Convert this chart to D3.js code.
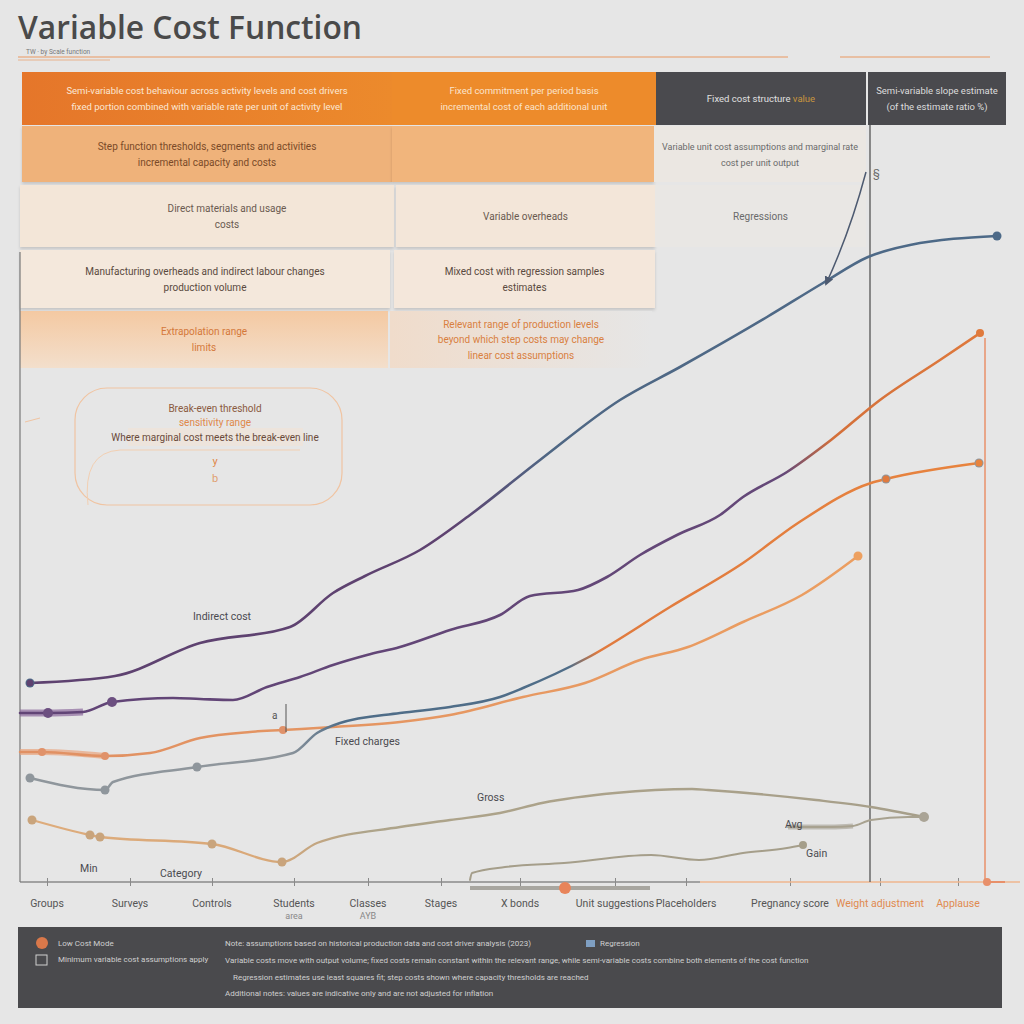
<!DOCTYPE html>
<html><head><meta charset="utf-8">
<script src="https://cdn.jsdelivr.net/npm/d3@7/dist/d3.min.js"></script>
<style>
html,body{margin:0;padding:0;background:#e6e6e6;}
svg{display:block;font-family:"Liberation Sans Narrow","Roboto","DejaVu Sans",sans-serif;}
</style></head>
<body>
<svg id="chart" width="1024" height="1024"></svg>
<script>
// ---------------- DATA ----------------
const titleText = "Variable Cost Function";
const subtitleText = "TW · by Scale function";

const categories = ["Groups","Surveys","Controls","Students|area","Classes|AYB","Stages","X bonds","Unit suggestions","Placeholders","Pregnancy score","Weight adjustment","Applause"];
const categoryX = [2.7, 11, 19.2, 27.4, 34.8, 42.1, 50, 59.5, 66.6, 77, 86, 93.8];
const categoryHighlight = [false,false,false,false,false,false,false,false,false,false,true,true];

// series values: [x, y]
const seriesA = [[1,19.9],[9.5,20.6],[18,23.9],[27,25.5],[31.3,28.9],[34.5,30.6],[40,33.2],[45,36.7],[52,42.2],[60,48.2],[66,51.5],[74.7,56.5],[80.3,59.9],[84.8,62.5],[89,63.7],[97.7,64.6]];
const seriesB = [[0,16.9],[2.8,16.9],[6.3,17],[9.2,18],[15.3,18.4],[18,18.3],[21.3,18.2],[24.7,19.5],[28,20.5],[31.3,21.7],[34.7,22.7],[38,23.5],[43,25.2],[48,26.7],[51,28.6],[55.8,29.2],[58.7,30.5],[62,32.7],[65.7,34.7],[70,36.7],[72.3,38.5],[76.7,41],[81.1,44.2],[86,48.2],[92,52.2],[96,54.9]];
const seriesC = [[1,10.4],[8.5,9.2],[9.3,10],[17.7,11.5],[27.3,12.9],[29.7,14.9],[32,15.9],[38,16.9],[43,17.5],[48,18.5],[50.3,19.4],[56.7,22.4],[65,27.5],[72.3,31.9],[77.8,35.9],[85.1,39.9],[86.6,40.3],[95.9,41.9]];
const seriesD = [[0,13],[2.2,13],[8.5,12.6],[13,12.9],[18,14.4],[23,15],[26.3,15.2],[31.3,15.5],[38,16],[43,16.7],[50.3,18.5],[56.5,19.9],[62,22.2],[66.8,23.5],[72.3,26],[78.2,28.7],[83.8,32.6]];
const seriesE = [[1.2,6.2],[7,4.7],[8,4.5],[19.2,3.8],[26.2,2],[29.7,3.9],[38,5.5],[43,6.2],[48,6.9],[52.2,7.9],[59.5,8.9],[67.2,9.3],[68.8,9.2],[79.6,8.2],[85.1,7.5],[90.4,6.5]];
const seriesF = [[45,0.2],[45.2,0.9],[48.5,1.5],[54.4,1.9],[63.1,2.7],[67.9,2.2],[72.3,2.9],[76.7,3.4],[78.3,3.7]];
const seriesG = [[76.8,5.5],[81.1,5.5],[83.3,5.6],[85.1,6.2],[88.8,6.5],[90.4,6.5]];
const seriesH = [[45,-0.6],[63,-0.6]];
const markerH = [[54.5,-0.6]];

const markersA = [0,15];
const markersB = [1,3];
const markersC = [0,1,3,16,17];
const markersD = [1,2,6];
const markersE = [0,1,2,3,4];
const markersF = [8];
const markersG = [5];

// chart annotations: [text, x, y]
const chartLabels = [["Indirect cost",17.3,26.2],["Fixed charges",31.5,13.7],["Gross",45.7,8.1],["Min",6,1],["Category",14,0.5],["Avg",76.5,5.4],["Gain",78.6,2.5]];

// table rows
const tableCells = [
  {r:0,c:0,lines:["Semi-variable cost behaviour across activity levels and cost drivers","fixed portion combined with variable rate per unit of activity level"]},
  {r:0,c:1,lines:["Fixed commitment per period basis","incremental cost of each additional unit"]},
  {r:0,c:2,lines:["Fixed cost structure"],accent:"value"},
  {r:0,c:3,lines:["Semi-variable slope estimate","(of the estimate ratio %)"]},
  {r:1,c:0,lines:["Step function thresholds, segments and activities","incremental capacity and costs"]},
  {r:1,c:1,lines:[]},
  {r:1,c:2,lines:["Variable unit cost assumptions and marginal rate","cost per unit output"]},
  {r:2,c:0,lines:["Direct materials and usage","costs"]},
  {r:2,c:1,lines:["Variable overheads"]},
  {r:2,c:2,lines:["Regressions"]},
  {r:3,c:0,lines:["Manufacturing overheads and indirect labour changes","production volume"]},
  {r:3,c:1,lines:["Mixed cost with regression samples","estimates"]},
  {r:4,c:0,lines:["Extrapolation range","limits"]},
  {r:4,c:1,lines:["Relevant range of production levels","beyond which step costs may change","linear cost assumptions"]}
];

const boxLines = ["Break-even threshold","sensitivity range","Where marginal cost meets the break-even line","y","b"];

const footerLeft = ["Low Cost Mode","Minimum variable cost assumptions apply"];
const footerRight = [
  "Note: assumptions based on historical production data and cost driver analysis (2023)",
  "Variable costs move with output volume; fixed costs remain constant within the relevant range, while semi-variable costs combine both elements of the cost function",
  "Regression estimates use least squares fit; step costs shown where capacity thresholds are reached",
  "Additional notes: values are indicative only and are not adjusted for inflation"
];
const footerLegend = "Regression";

// ---------------- DRAW ----------------
const svg = d3.select("#chart");
const W = 1024, H = 1024;
svg.append("rect").attr("width",W).attr("height",H).attr("fill","#e6e6e6");

const x = d3.scaleLinear().domain([0,98]).range([20,1000]);
const y = d3.scaleLinear().domain([0,81]).range([882,72]);

const defs = svg.append("defs");
function grad(id, stops){
  const g = defs.append("linearGradient").attr("id",id).attr("gradientUnits","userSpaceOnUse")
    .attr("x1",x(0)).attr("x2",x(98)).attr("y1",0).attr("y2",0);
  stops.forEach(s=>g.append("stop").attr("offset",s[0]).attr("stop-color",s[1]));
}
grad("gA",[[0,"#5e4270"],[0.44,"#5e4270"],[0.54,"#4f6784"],[1,"#4d6a88"]]);
grad("gB",[[0,"#614476"],[0.78,"#644878"],[0.83,"#d4703a"],[1,"#e07a3c"]]);
grad("gC",[[0,"#8f969c"],[0.27,"#8f969c"],[0.33,"#4f6d88"],[0.56,"#4f6d88"],[0.59,"#e07a3e"],[1,"#e8843e"]]);
grad("gD",[[0,"#e09063"],[1,"#eda060"]]);
grad("gE",[[0,"#deac7c"],[0.25,"#d9a878"],[0.35,"#aea48a"],[1,"#a59e8a"]]);
// header gradients
const hg = defs.append("linearGradient").attr("id","hg1").attr("x1",0).attr("x2",1);
hg.append("stop").attr("offset",0).attr("stop-color","#e5762a");
hg.append("stop").attr("offset",1).attr("stop-color","#ec8a2c");
const r5 = defs.append("linearGradient").attr("id","r5").attr("x1",0).attr("x2",0).attr("y1",0).attr("y2",1);
r5.append("stop").attr("offset",0).attr("stop-color","#f4c9a2");
r5.append("stop").attr("offset",1).attr("stop-color","#f3dfcc");
const r5b = defs.append("linearGradient").attr("id","r5b").attr("x1",0).attr("x2",1);
r5b.append("stop").attr("offset",0).attr("stop-color","#f0dccb");
r5b.append("stop").attr("offset",1).attr("stop-color","#e6e6e6");
const shadow = defs.append("filter").attr("id","sh").attr("x","-5%").attr("y","-20%").attr("width","110%").attr("height","150%");
shadow.append("feDropShadow").attr("dx",0).attr("dy",2).attr("stdDeviation",1.5).attr("flood-color","#000").attr("flood-opacity",0.15);

// ---- Title
svg.append("text").attr("x",18).attr("y",39).attr("font-family","'Open Sans','DejaVu Sans',sans-serif")
  .attr("font-size",32).attr("font-weight",600).attr("fill","#4a4a4a").attr("textLength",344).attr("lengthAdjust","spacingAndGlyphs")
  .text(titleText);
svg.append("text").attr("x",26).attr("y",54).attr("font-size",6.5).attr("fill","#777").text(subtitleText);
svg.append("line").attr("x1",18).attr("x2",788).attr("y1",57).attr("y2",57).attr("stroke","#e8b28c").attr("stroke-width",1.5);
svg.append("line").attr("x1",18).attr("x2",110).attr("y1",60).attr("y2",60).attr("stroke","#e8b28c").attr("stroke-width",1);
svg.append("line").attr("x1",840).attr("x2",990).attr("y1",57).attr("y2",57).attr("stroke","#e8b28c").attr("stroke-width",1.5);

// ---- Table
const colBounds = [
  [[22,392],[392,656],[656,866],[868,1006]],
  [[22,392],[392,654],[654,866]],
  [[20,394],[396,655],[655,866]],
  [[20,390],[394,655]],
  [[20,388],[390,652]]
];
const rowBounds = [[72,125],[126,182],[185,247],[250,308],[311,368]];
const cellFill = [
  ["url(#hg1)","#ed8b2b","#4a4a4e","#4a4a4e"],
  ["#efb27a","#f1b57c","#ebe7e2"],
  ["#f3e6d8","#f3e6d9","#e9e7e4"],
  ["#f4e8dc","#f4e7db"],
  ["url(#r5)","url(#r5b)"]
];
const cellTextColor = [
  ["#fbe7d4","#fbe4cc","#e0e0e0","#dcdcdc"],
  ["#7a4a28","#7a4a28","#6a6a6a"],
  ["#6a5a50","#6a5a50","#6a6a6a"],
  ["#5a4a40","#5a4a40"],
  ["#d4783a","#d9803f"]
];
tableCells.forEach(cell=>{
  const [x0,x1] = colBounds[cell.r][cell.c];
  const [y0,y1] = rowBounds[cell.r];
  const useShadow = cell.r>=1 && cell.r<=3 && cell.c<=1;
  svg.append("rect").attr("x",x0).attr("y",y0).attr("width",x1-x0).attr("height",y1-y0)
    .attr("fill",cellFill[cell.r][cell.c]).attr("filter",useShadow?"url(#sh)":null);
  const cx = (x0+x1)/2 + (cell.r===2&&cell.c===0?20:0);
  const n = cell.lines.length;
  const lh = cell.r===4 && cell.c===1 ? 15.5 : 16;
  const cy = (y0+y1)/2 - (n-1)*lh/2 + 3.5;
  const fs = cell.r===0 ? 9.5 : (cell.r===1 && cell.c===2 ? 9 : 10);
  cell.lines.forEach((ln,i)=>{
    const t = svg.append("text").attr("x",cx).attr("y",cy+i*lh).attr("text-anchor","middle")
      .attr("font-size", fs).attr("fill",cellTextColor[cell.r][cell.c]).text(ln);
    if(cell.accent && i===0){
      t.append("tspan").attr("fill","#c9963e").text("  "+cell.accent);
    }
  });
});
svg.append("line").attr("x1",867).attr("x2",867).attr("y1",72).attr("y2",125).attr("stroke","#e6e6e6").attr("stroke-width",2);

// ---- rounded box annotation
svg.append("rect").attr("x",75).attr("y",388).attr("width",267).attr("height",117).attr("rx",32)
  .attr("fill","none").attr("stroke","#f0c4a2").attr("stroke-width",1.2);
svg.append("path").attr("d","M88,505 Q82,452 120,450 L300,450").attr("fill","none").attr("stroke","#f2cfb2").attr("stroke-width",1);
svg.append("rect").attr("x",128).attr("y",428).attr("width",175).attr("height",18).attr("fill","#efe4da").attr("opacity",0.8);
const boxColors = ["#8a5a40","#e0884a","#6a4a3a","#e0884a","#e0a070"];
const boxSizes = [10,10,10,11,11];
boxLines.forEach((ln,i)=>{
  svg.append("text").attr("x",215).attr("y",[412,426,441,465,482][i]).attr("text-anchor","middle")
    .attr("font-size",boxSizes[i]).attr("fill",boxColors[i]).text(ln);
});
svg.append("path").attr("d","M25,422 L40,418").attr("stroke","#f0c4a2").attr("fill","none");

// ---- Axes
const axisG = svg.append("g").attr("transform",`translate(0,${y(0)})`);
const xAxis = d3.axisBottom(x).tickValues(categoryX).tickSize(5).tickFormat(()=> "");
axisG.call(xAxis);
axisG.select(".domain").remove();
axisG.selectAll(".tick line").attr("stroke","#8a8a8a").attr("y1",-4).attr("y2",4);
svg.append("line").attr("x1",x(0)).attr("x2",x(68)).attr("y1",y(0)).attr("y2",y(0)).attr("stroke","#8a8a8a").attr("stroke-width",1.5);
svg.append("line").attr("x1",x(68)).attr("x2",x(100)).attr("y1",y(0)).attr("y2",y(0)).attr("stroke","#efb68e").attr("stroke-width",1.5);
svg.append("line").attr("x1",x(0)).attr("x2",x(0)).attr("y1",y(63)).attr("y2",y(0)).attr("stroke","#777").attr("stroke-width",1.2);

categories.forEach((c,i)=>{
  const parts = c.split("|");
  const t = svg.append("text").attr("x",x(categoryX[i])).attr("y",907).attr("text-anchor","middle")
    .attr("font-size",10.5).attr("fill",categoryHighlight[i]?"#e08a50":"#555");
  parts.forEach((p,j)=>{
    t.append("tspan").attr("x",x(categoryX[i])).attr("dy",j===0?0:12).attr("font-size",j===0?10.5:9).attr("fill",j===0?null:"#888").text(p);
  });
});

// vertical reference lines
svg.append("line").attr("x1",x(85)).attr("x2",x(85)).attr("y1",125).attr("y2",y(0)).attr("stroke","#555").attr("stroke-width",1.3);
svg.append("line").attr("x1",x(96.5)).attr("x2",x(96.5)).attr("y1",y(54.4)).attr("y2",y(0)).attr("stroke","#e8906a").attr("stroke-width",1.5);
svg.append("circle").attr("cx",x(96.7)).attr("cy",y(0)).attr("r",4).attr("fill","#e8906a");
svg.append("path").attr("d",`M${x(96.7)},${y(0)} L${x(98.5)},${y(0)}`).attr("stroke","#e8906a").attr("stroke-width",2);

// ---- Lines
const line = d3.line().x(d=>x(d[0])).y(d=>y(d[1])).curve(d3.curveMonotoneX);
function drawSeries(data, stroke, width, markers, dotColor, r){
  svg.append("path").datum(data).attr("d",line).attr("fill","none").attr("stroke",stroke)
    .attr("stroke-width",width).attr("stroke-linecap","round");
  (markers||[]).forEach(i=>{
    svg.append("circle").attr("cx",x(data[i][0])).attr("cy",y(data[i][1])).attr("r",r||4).attr("fill",dotColor);
  });
}
svg.append("path").datum(seriesB.slice(0,3)).attr("d",line).attr("stroke","#8b6a9c").attr("stroke-width",7).attr("opacity",0.7).attr("fill","none");
svg.append("path").datum(seriesD.slice(0,3)).attr("d",line).attr("stroke","#e8a47e").attr("stroke-width",6).attr("opacity",0.7).attr("fill","none");
svg.append("path").datum(seriesG.slice(0,3)).attr("d",line).attr("stroke","#b4b0a6").attr("stroke-width",5).attr("opacity",0.8).attr("fill","none");
svg.append("path").datum(seriesH).attr("d",line).attr("stroke","#a8a6a0").attr("stroke-width",4).attr("fill","none");
markerH.forEach(m=>svg.append("circle").attr("cx",x(m[0])).attr("cy",y(m[1])).attr("r",6).attr("fill","#e8845a"));

drawSeries(seriesE,"url(#gE)",2.3,markersE,"#c9a47c",4.5);
drawSeries(seriesF,"#a59e8a",2,markersF,"#a59e8a",4);
drawSeries(seriesG,"#a8a290",2,markersG,"#aaa496",5);
drawSeries(seriesD,"url(#gD)",2.5,markersD,"#e0926a",4);
drawSeries(seriesC,"url(#gC)",2.5,markersC,"#8f969c",4.5);
drawSeries(seriesB,"url(#gB)",2.6,markersB,"#6c4f80",5);
drawSeries(seriesA,"url(#gA)",2.6,markersA,"#4d6a88",4.5);
svg.append("circle").attr("cx",x(seriesB[seriesB.length-1][0])).attr("cy",y(seriesB[seriesB.length-1][1])).attr("r",4).attr("fill","#e07a3c");
svg.append("circle").attr("cx",x(seriesD[seriesD.length-1][0])).attr("cy",y(seriesD[seriesD.length-1][1])).attr("r",4.5).attr("fill","#eda060");
svg.append("circle").attr("cx",x(seriesC[16][0])).attr("cy",y(seriesC[16][1])).attr("r",3.5).attr("fill","#e07a3e");
svg.append("circle").attr("cx",x(seriesC[17][0])).attr("cy",y(seriesC[17][1])).attr("r",3.5).attr("fill","#e8843e");
svg.append("circle").attr("cx",x(seriesA[markersA[0]][0])).attr("cy",y(seriesA[markersA[0]][1])).attr("r",3.5).attr("fill","#5e4270");

// chart labels
chartLabels.forEach(l=>{
  svg.append("text").attr("x",x(l[1])).attr("y",y(l[2])).attr("font-size",10.5).attr("fill","#4a4a50").text(l[0]);
});
svg.append("text").attr("x",x(25.2)).attr("y",y(16.3)).attr("font-size",10).attr("fill","#555").text("a");
svg.append("line").attr("x1",x(26.6)).attr("x2",x(26.6)).attr("y1",y(17.8)).attr("y2",y(15)).attr("stroke","#555");

// arrow annotation
defs.append("marker").attr("id","arr").attr("viewBox","0 0 10 10").attr("refX",8).attr("refY",5)
  .attr("markerWidth",6).attr("markerHeight",6).attr("orient","auto")
  .append("path").attr("d","M0,0 L10,5 L0,10 z").attr("fill","#4d5a70");
svg.append("path").attr("d",`M${x(84.6)},${y(71)} Q${x(83)},${y(65)} ${x(80.6)},${y(59.8)}`)
  .attr("fill","none").attr("stroke","#4d5a70").attr("stroke-width",1.5).attr("marker-end","url(#arr)");
svg.append("text").attr("x",x(85.3)).attr("y",y(70.5)).attr("font-size",11).attr("fill","#666").text("§");

// ---- Footer
svg.append("rect").attr("x",18).attr("y",927).attr("width",984).attr("height",81).attr("fill","#4a4a4d");
svg.append("circle").attr("cx",42).attr("cy",943).attr("r",6).attr("fill","#d9784a");
svg.append("rect").attr("x",36).attr("y",955).attr("width",11).attr("height",10).attr("fill","none").attr("stroke","#cfcfcf");
footerLeft.forEach((t,i)=>{
  svg.append("text").attr("x",58).attr("y",946+i*16).attr("font-size",8).attr("fill","#cfcfcf").text(t);
});
const frY = [946,963,980,996], frX = [225,225,233,225];
footerRight.forEach((t,i)=>{
  svg.append("text").attr("x",frX[i]).attr("y",frY[i]).attr("font-size",8).attr("fill","#cfcfcf").text(t);
});
svg.append("rect").attr("x",586).attr("y",940).attr("width",9).attr("height",7).attr("fill","#7f9fc2");
svg.append("text").attr("x",600).attr("y",946).attr("font-size",8).attr("fill","#cfcfcf").text(footerLegend);
</script>
</body></html>
